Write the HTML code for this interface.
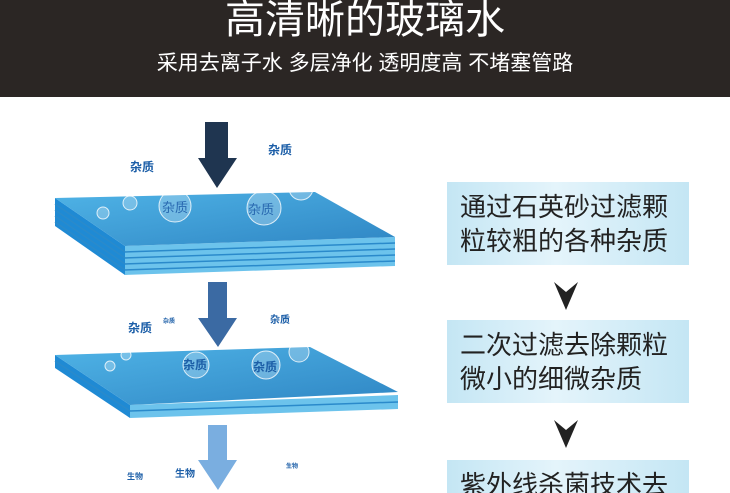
<!DOCTYPE html>
<html style="width:730px;height:493px;overflow:hidden"><head><meta charset="utf-8"><style>
body{margin:0;width:730px;height:493px;overflow:hidden;background:#fff;font-family:"Liberation Sans","Noto Sans CJK SC",sans-serif;position:relative}
.hd{position:absolute;left:0;top:0;width:730px;height:97px;background:#2b2624;color:#fff;text-align:center}
.t1{position:absolute;top:-6px;width:100%;font-size:40px;line-height:52px}
.t2{position:absolute;top:50px;width:100%;font-size:21px;line-height:28px}
.box{position:absolute;left:447px;width:242px;height:83px;background:linear-gradient(90deg,#c4e6f4,#e4f4fb 45%,#c4e6f4);font-size:26px;line-height:34px;color:#222;padding:8px 0 0 13px;box-sizing:border-box;white-space:nowrap;overflow:hidden}
.lbl{position:absolute;color:#1d5fa8;font-weight:bold;font-size:12px}
</style></head><body>
<div class="hd"><div class="t1">高清晰的玻璃水</div><div class="t2">采用去离子水 多层净化 透明度高 不堵塞管路</div></div>
<svg width="730" height="493" style="position:absolute;left:0;top:0" viewBox="0 0 730 493">
<defs><linearGradient id="g1" x1="0" y1="0" x2="1" y2="1"><stop offset="0" stop-color="#4fb3e6"/><stop offset="1" stop-color="#2f86c4"/></linearGradient></defs>
<polygon points="55,198 125,246 125,275 55,226" fill="#1f8ad4"/>
<polygon points="125,246 395,237 395,266 125,275" fill="#6cc3ec"/>
<g stroke="#2a8acb" stroke-width="1.5"><line x1="125" y1="252" x2="395" y2="243"/><line x1="125" y1="258" x2="395" y2="249"/><line x1="125" y1="264" x2="395" y2="255"/><line x1="125" y1="270" x2="395" y2="261"/>
<line x1="55" y1="204" x2="125" y2="252"/><line x1="55" y1="210" x2="125" y2="258"/><line x1="55" y1="216" x2="125" y2="264"/><line x1="55" y1="222" x2="125" y2="270"/></g>
<polygon points="55,198 315,192 395,237 125,246" fill="url(#g1)"/>
<polygon points="55,355 130,405 130,418 55,368" fill="#1f8ad4"/>
<polygon points="130,405 398,395 398,409 130,418" fill="#6cc3ec"/>
<g stroke="#2a8acb" stroke-width="1.5"><line x1="130" y1="411" x2="398" y2="402"/><line x1="55" y1="361" x2="130" y2="411"/></g>
<polygon points="55,355 310,347 398,392 130,405" fill="url(#g1)"/>
<g fill="rgba(255,255,255,0.25)" stroke="rgba(255,255,255,0.8)" stroke-width="1">
<circle cx="175" cy="206" r="16"/><circle cx="264" cy="208" r="17"/><circle cx="301" cy="188" r="12"/><circle cx="130" cy="203" r="7"/><circle cx="103" cy="213" r="6"/>
<circle cx="196" cy="365" r="13"/><circle cx="266" cy="365" r="14"/><circle cx="299" cy="352" r="10"/><circle cx="126" cy="355" r="5"/><circle cx="110" cy="366" r="5"/>
</g>
<polygon points="205,122 228,122 228,158 237,158 217,188 198,158 205,158" fill="#1f3550"/>
<polygon points="208,282 227,282 227,318 237,318 218,347 198,318 208,318" fill="#3b6aa3"/>
<polygon points="208,425 227,425 227,460 237,460 218,490 198,460 208,460" fill="#7aaee0"/>
<polygon points="554,282 566,292 578,282 566,310" fill="#222"/>
<polygon points="554,420 566,430 578,420 566,448" fill="#222"/>
</svg>
<div class="lbl" style="left:130px;top:158px">杂质</div>
<div class="lbl" style="left:268px;top:141px">杂质</div>
<div class="lbl" style="left:162px;top:197px;font-size:13px;font-weight:normal;color:#2868b0">杂质</div>
<div class="lbl" style="left:248px;top:199px;font-size:13px;font-weight:normal;color:#2868b0">杂质</div>
<div class="lbl" style="left:128px;top:319px">杂质</div>
<div class="lbl" style="left:163px;top:316px;font-size:6px">杂质</div>
<div class="lbl" style="left:270px;top:311px;font-size:10px">杂质</div>
<div class="lbl" style="left:183px;top:356px">杂质</div>
<div class="lbl" style="left:253px;top:358px">杂质</div>
<div class="lbl" style="left:127px;top:471px;font-size:8px">生物</div>
<div class="lbl" style="left:175px;top:465px;font-size:10px">生物</div>
<div class="lbl" style="left:286px;top:461px;font-size:6px">生物</div>
<div class="box" style="top:182px">通过石英砂过滤颗<br>粒较粗的各种杂质</div>
<div class="box" style="top:320px">二次过滤去除颗粒<br>微小的细微杂质</div>
<div class="box" style="top:460px;height:33px">紫外线杀菌技术去</div>
</body></html>
